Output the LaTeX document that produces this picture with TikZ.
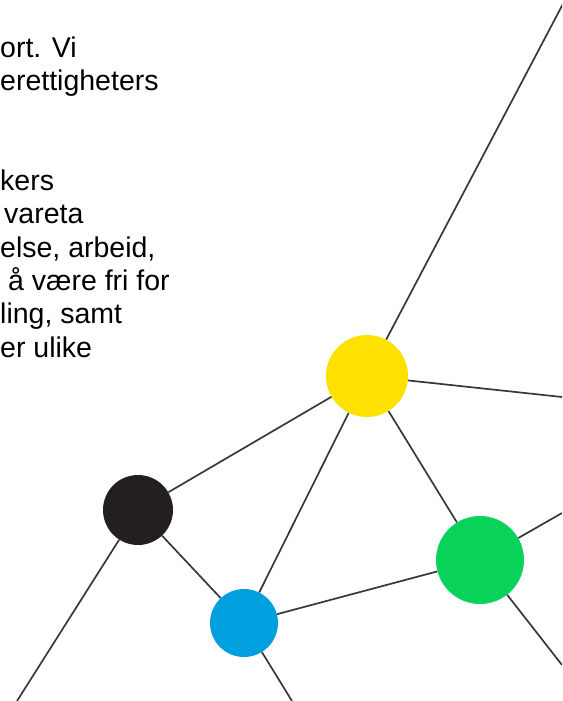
\documentclass[tikz,border=0pt]{standalone}
\usepackage{fontspec}
\setmainfont{Liberation Sans}

\definecolor{dotyellow}{HTML}{FFE100}
\definecolor{dotblack}{HTML}{231F20}
\definecolor{dotblue}{HTML}{00A0DF}
\definecolor{dotgreen}{HTML}{0AD157}

\tikzset{
    dot/.style={circle, inner sep=0pt, draw=none},
    link/.style={line width=1.7pt, black!78},
    txt/.style={anchor=base west, inner sep=0pt, font=\fontsize{28.5}{33}\selectfont}
}

\begin{document}
\begin{tikzpicture}[x=1pt, y=-1pt]
            \useasboundingbox (0,0) rectangle (562,701);
            \clip (0,0) rectangle (562,701);

            % text cut off at the left edge
            \node[txt] (line1) at (0,57) {ort. Vi};
            \node[txt] (line2) at (0,90) {erettigheters};
            \node[txt] (line3) at (0,190) {kers};
            \node[txt] (line4) at (4,223) {vareta};
            \node[txt] (line5) at (0,257) {else, arbeid,};
            \node[txt] (line6) at (8,290) {å være fri for};
            \node[txt] (line7) at (0,323) {ling, samt};
            \node[txt] (line8) at (0,357) {er ulike};

            % dots
            \node[dot, fill=dotyellow, minimum size=82pt] (yellowdot) at (367,376) {};
            \node[dot, fill=dotblack, minimum size=70pt] (blackdot) at (138,510) {};
            \node[dot, fill=dotblue, minimum size=68pt] (bluedot) at (244,623) {};
            \node[dot, fill=dotgreen, minimum size=88pt] (greendot) at (480,560) {};

            % free ends
            \coordinate (topend) at (565,0);
            \coordinate (rightend) at (562,397);
            \coordinate (greenup) at (562,513);
            \coordinate (greendown) at (562,665);
            \coordinate (leftend) at (17,701);
            \coordinate (bottomend) at (292,701);

            \draw[link] (yellowdot) -- (topend);
            \draw[link] (yellowdot) -- (rightend);
            \draw[link] (yellowdot) -- (blackdot);
            \draw[link] (yellowdot) -- (bluedot);
            \draw[link] (yellowdot) -- (greendot);
            \draw[link] (blackdot) -- (bluedot);
            \draw[link] (blackdot) -- (leftend);
            \draw[link] (bluedot) -- (greendot);
            \draw[link] (bluedot) -- (bottomend);
            \draw[link] (greendot) -- (greenup);
            \draw[link] (greendot) -- (greendown);

        \end{tikzpicture}
\end{document}
